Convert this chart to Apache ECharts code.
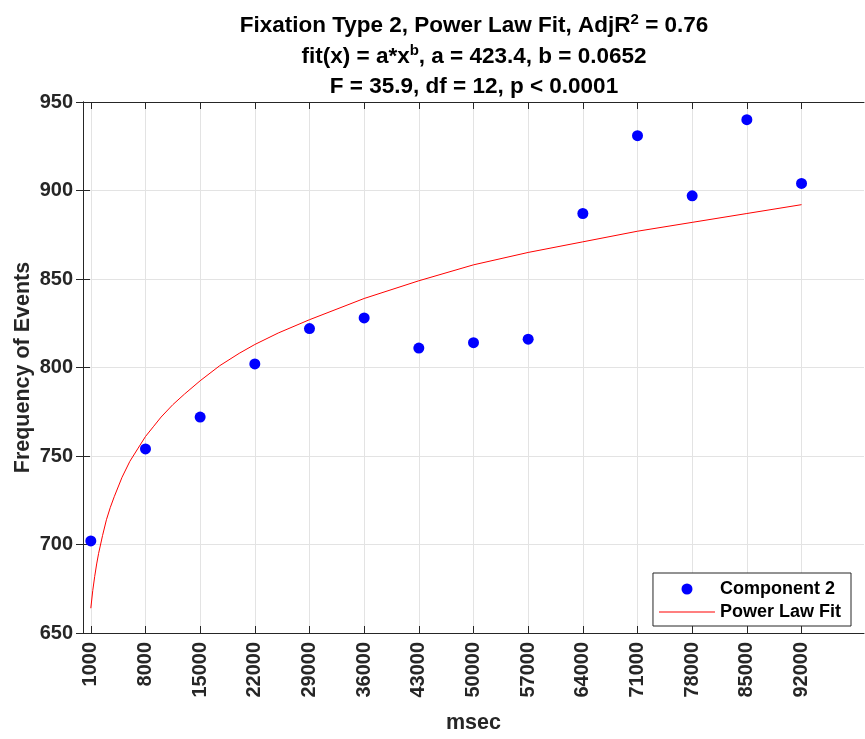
<!DOCTYPE html>
<html>
<head>
<meta charset="UTF-8">
<title>Fixation Type 2</title>
<script src="https://cdn.jsdelivr.net/npm/echarts@6/dist/echarts.min.js"></script>
<style>
body,html{ padding:0px; margin:0px; background:#fff;}
#chart_box{ width:865px; height:739px; }
</style>
</head>
<body>
<div id="chart_box"></div>
<script type="text/javascript">
// measured points (Component 2)
var msec = [1000, 8000, 15000, 22000, 29000, 36000, 43000, 50000, 57000, 64000, 71000, 78000, 85000, 92000];
var events = [702, 754, 772, 802, 822, 828, 811, 814, 816, 887, 931, 897, 940, 904];

// power law curve
var fitX = [1000, 1250, 1500, 1750, 2000, 2500, 3000, 3500, 4000, 5000, 6000, 7000, 8000, 9000, 10000, 11500, 13000, 15000, 17500, 20000, 22000, 25000, 29000, 36000, 43000, 50000, 57000, 64000, 71000, 78000, 85000, 92000];
var fitY = [664, 674, 682, 689, 695, 705, 714, 721, 727, 738, 747, 754, 761, 766.5, 772, 779, 785, 792.5, 801, 808, 813, 819.5, 827, 839, 849, 858, 865, 871, 877, 882, 887, 892];

var xTicks = [1000, 8000, 15000, 22000, 29000, 36000, 43000, 50000, 57000, 64000, 71000, 78000, 85000, 92000];

var font = '"Liberation Sans", Arial, sans-serif';
var ink = '#262626';

var myChart = echarts.init(document.getElementById('chart_box'));

var titleRich = {
    t: { fontSize: 22.5, fontWeight: 'bold', fontFamily: font, fill: '#000' },
    s: { fontSize: 15, fontWeight: 'bold', fontFamily: font, fill: '#000', padding: [0, 0, 13, 0] }
};

var option = {
    animation: false,
    textStyle: { fontFamily: font },
    grid: { left: 83, right: 1, top: 102, bottom: 97 },
    graphic: [
        { type: 'text', x: 474, y: 26, style: {
            text: '{t|Fixation Type 2, Power Law Fit, AdjR}{s|2}{t| = 0.76}',
            align: 'center', verticalAlign: 'middle', rich: titleRich } },
        { type: 'text', x: 474, y: 57, style: {
            text: '{t|fit(x) = a*x}{s|b}{t|, a = 423.4, b = 0.0652}',
            align: 'center', verticalAlign: 'middle', rich: titleRich } },
        { type: 'text', x: 474, y: 87, style: {
            text: 'F = 35.9, df = 12, p < 0.0001',
            align: 'center', verticalAlign: 'middle',
            fontSize: 22.5, fontWeight: 'bold', fontFamily: font, fill: '#000' } }
    ],
    legend: {
        orient: 'vertical',
        right: 14,
        bottom: 113,
        backgroundColor: '#fff',
        borderColor: ink,
        borderWidth: 1,
        borderRadius: 0,
        padding: [7, 10, 5, 6],
        itemGap: 5,
        itemWidth: 56,
        itemHeight: 11,
        textStyle: { fontSize: 18, fontWeight: 'bold', color: '#000', fontFamily: font },
        data: [
            { name: 'Component 2', icon: 'circle' },
            { name: 'Power Law Fit', icon: 'path://M0,0L56,0L56,1L0,1Z' }
        ]
    },
    xAxis: [{
        type: 'value',
        min: 0,
        max: 100000,
        position: 'bottom',
        name: 'msec',
        nameLocation: 'middle',
        nameGap: 79,
        nameMoveOverlap: false,
        nameTextStyle: { fontSize: 21.5, fontWeight: 'bold', color: ink },
        axisLine: { show: true, lineStyle: { color: ink, width: 1 } },
        axisTick: { show: true, inside: true, length: 7, customValues: xTicks, lineStyle: { color: ink } },
        axisLabel: { rotate: 90, margin: 9, customValues: xTicks, fontSize: 20, fontWeight: 'bold', color: ink,
            formatter: function (v) { return String(v); } },
        splitLine: { show: true, lineStyle: { color: '#e3e3e3', width: 1 } }
    }, {
        type: 'value',
        min: 0,
        max: 100000,
        position: 'top',
        axisLine: { show: true, lineStyle: { color: ink, width: 1 } },
        axisTick: { show: true, inside: true, length: 7, customValues: xTicks, lineStyle: { color: ink } },
        axisLabel: { show: false },
        splitLine: { show: false }
    }],
    yAxis: [{
        type: 'value',
        min: 650,
        max: 950,
        interval: 50,
        position: 'left',
        name: 'Frequency of Events',
        nameLocation: 'middle',
        nameGap: 49,
        nameMoveOverlap: false,
        nameTextStyle: { fontSize: 21.5, fontWeight: 'bold', color: ink },
        axisLine: { show: true, lineStyle: { color: ink, width: 1 } },
        axisTick: { show: true, inside: true, length: 7, lineStyle: { color: ink } },
        axisLabel: { margin: 10, fontSize: 20, fontWeight: 'bold', color: ink },
        splitLine: { show: true, lineStyle: { color: '#e3e3e3', width: 1 } }
    }, {
        type: 'value',
        min: 650,
        max: 950,
        interval: 50,
        position: 'right',
        axisLine: { show: true, lineStyle: { color: ink, width: 1 } },
        axisTick: { show: true, inside: true, length: 7, lineStyle: { color: ink } },
        axisLabel: { show: false },
        splitLine: { show: false }
    }],
    series: [{
        name: 'Component 2',
        type: 'scatter',
        symbol: 'circle',
        symbolSize: 11,
        itemStyle: { color: '#0000ff', opacity: 1 },
        data: msec.map(function (x, i) { return [x, events[i]]; }),
        z: 3
    }, {
        name: 'Power Law Fit',
        type: 'line',
        symbol: 'none',
        smooth: false,
        lineStyle: { color: '#ff0000', width: 1 },
        itemStyle: { color: '#ff0000' },
        data: fitX.map(function (x, i) { return [x, fitY[i]]; }),
        z: 2
    }]
};

myChart.setOption(option);
</script>
</body>
</html>
